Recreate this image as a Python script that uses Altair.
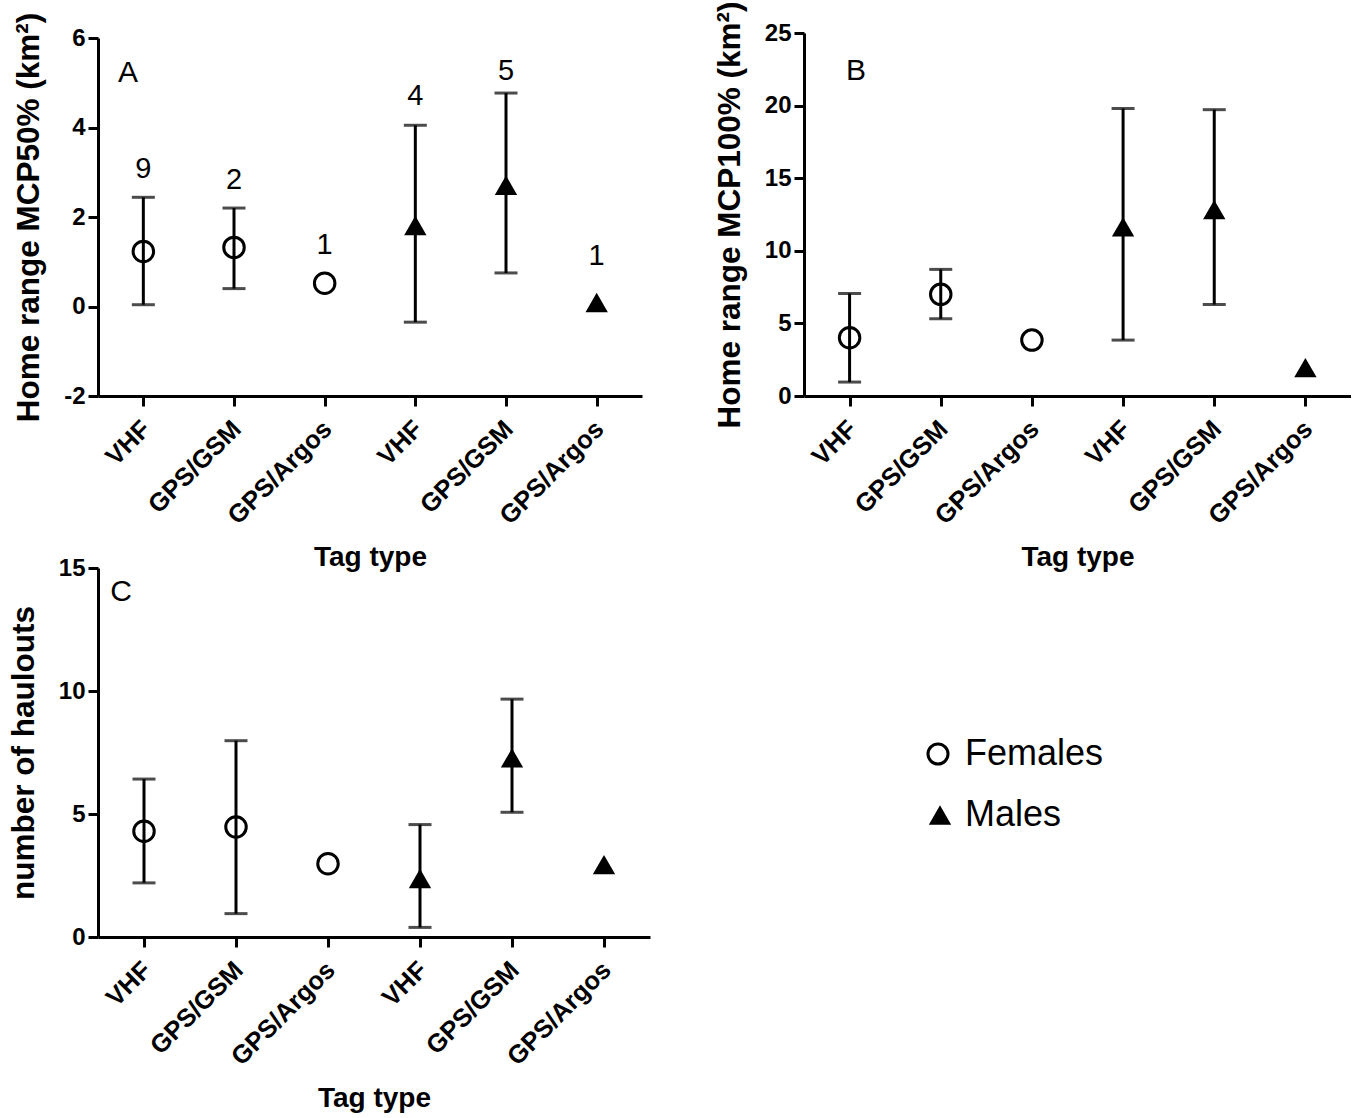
import altair as alt
import pandas as pd

FONT = "Liberation Sans"

tags = ["VHF", "GPS/GSM", "GPS/Argos"]
sexes = ["Females", "Males"]

# Panel A: home range MCP50% (km2)
a_mean = [1.23, 1.32, 0.52, 1.81, 2.71, 0.09]
a_upper = [2.44, 2.20, None, 4.05, 4.77, None]
a_lower = [0.04, 0.40, None, -0.35, 0.75, None]
a_n = [9, 2, 1, 4, 5, 1]
a_n_pos = [3.08, 2.82, 1.38, 4.70, 5.26, 1.12]
a_ticks = [-2, 0, 2, 4, 6]

# Panel B: home range MCP100% (km2)
b_mean = [4.01, 7.00, 3.85, 11.65, 12.84, 1.95]
b_upper = [7.06, 8.72, None, 19.80, 19.72, None]
b_lower = [0.96, 5.32, None, 3.85, 6.30, None]
b_ticks = [0, 5, 10, 15, 20, 25]

# Panel C: number of haulouts
c_mean = [4.30, 4.47, 2.98, 2.38, 7.28, 2.94]
c_upper = [6.42, 7.98, None, 4.57, 9.67, None]
c_lower = [2.20, 0.95, None, 0.39, 5.07, None]
c_ticks = [0, 5, 10, 15]

keys = [f"{s}|{t}" for s in sexes for t in tags]
sex_col = [s for s in sexes for t in tags]


def frame(mean, upper, lower):
    return pd.DataFrame({"key": keys, "sex": sex_col, "mean": mean,
                         "upper": upper, "lower": lower})


def panel(df, ytitle, ydomain, yticks, yrange, width, height, letter, lxy, ndf=None):
    xenc = alt.X("key:N", sort=keys,
                 scale=alt.Scale(type="point", domain=keys, padding=0.5),
                 axis=alt.Axis(title="Tag type",
                               labelExpr="split(datum.value, '|')[1]"))
    yscale = alt.Scale(domain=ydomain, range=yrange, nice=False, zero=False)
    yaxis = alt.Axis(title=ytitle, values=yticks, labelExpr="'' + datum.value")

    def yenc(field):
        return alt.Y(f"{field}:Q", scale=yscale, axis=yaxis)

    base = alt.Chart(df)
    bars = base.transform_filter("isValid(datum.upper)")
    rule = bars.mark_rule(color="black", strokeWidth=3).encode(
        x=xenc, y=yenc("lower"), y2="upper:Q")
    cap_hi = bars.mark_tick(color="black", thickness=3, size=23).encode(
        x=xenc, y=yenc("upper"))
    cap_lo = bars.mark_tick(color="black", thickness=3, size=23).encode(
        x=xenc, y=yenc("lower"))
    circles = base.transform_filter("datum.sex == 'Females'").mark_point(
        shape="circle", filled=False, stroke="black", strokeWidth=3, size=420,
        opacity=1).encode(x=xenc, y=yenc("mean"))
    tris = base.transform_filter("datum.sex == 'Males'").mark_point(
        shape="triangle-up", filled=True, fill="black", size=500,
        opacity=1).encode(x=xenc, y=yenc("mean"))
    lab = alt.Chart(pd.DataFrame({"t": [letter]})).mark_text(
        font=FONT, fontSize=30, color="black", align="center",
        baseline="middle").encode(x=alt.value(lxy[0]), y=alt.value(lxy[1]),
                                  text="t:N")
    layers = [rule, cap_hi, cap_lo, circles, tris, lab]
    if ndf is not None:
        ntext = alt.Chart(ndf).mark_text(
            font=FONT, fontSize=29, color="black", align="center",
            baseline="middle").encode(x=xenc, y=yenc("pos"), text="n:N")
        layers.append(ntext)
    return alt.layer(*layers).properties(width=width, height=height)


n_df = pd.DataFrame({"key": keys, "n": [str(v) for v in a_n], "pos": a_n_pos})

A = panel(frame(a_mean, a_upper, a_lower), "Home range MCP50% (km²)",
          [-2, 6], a_ticks, [363, 5], 544, 363, "A", (30, 40), n_df)
B = panel(frame(b_mean, b_upper, b_lower), "Home range MCP100% (km²)",
          [0, 25], b_ticks, [363, 0], 547, 363, "B", (52, 38))
C = panel(frame(c_mean, c_upper, c_lower), "number of haulouts",
          [0, 15], c_ticks, [369, 0], 552, 369, "C", (23, 24))

# legend panel
leg_df = pd.DataFrame({"sex": sexes})
ly = alt.Y("sex:N", scale=alt.Scale(type="point", domain=sexes,
                                     range=[186, 247], padding=0), axis=None)
leg_c = alt.Chart(leg_df).transform_filter("datum.sex == 'Females'").mark_point(
    shape="circle", filled=False, stroke="black", strokeWidth=3, size=400,
    opacity=1).encode(x=alt.value(134), y=ly)
leg_t = alt.Chart(leg_df).transform_filter("datum.sex == 'Males'").mark_point(
    shape="triangle-up", filled=True, fill="black", size=500,
    opacity=1).encode(x=alt.value(136), y=ly)
leg_txt = alt.Chart(leg_df).mark_text(
    font=FONT, fontSize=36, color="black", align="left",
    baseline="middle").encode(x=alt.value(161), y=ly, text="sex:N")
L = alt.layer(leg_c, leg_t, leg_txt).properties(width=300, height=300)

chart = alt.concat(
    A, B, C, L, columns=2, spacing={"row": 172, "column": 154},
    bounds="flush", align="each"
).properties(
    padding={"left": 8, "top": 0, "right": 0, "bottom": 0},
    background="white"
).configure_view(stroke=None).configure_axis(
    domainColor="black", domainWidth=3, tickColor="black", tickWidth=3,
    tickSize=10, grid=False, labelFont=FONT, labelFontWeight="bold",
    labelColor="black", labelOverlap=False,
    titleFont=FONT, titleFontWeight="bold", titleColor="black"
).configure_axisX(
    labelAngle=-45, labelAlign="right", labelBaseline="top",
    labelFontSize=25.5, labelPadding=10, labelOffset=-6,
    titlePadding=14, titleFontSize=28
).configure_axisY(
    labelFontSize=24, labelPadding=3, titlePadding=18, titleFontSize=31.5
)

chart.save("out.html", embed_options={"renderer": "svg", "actions": False})
